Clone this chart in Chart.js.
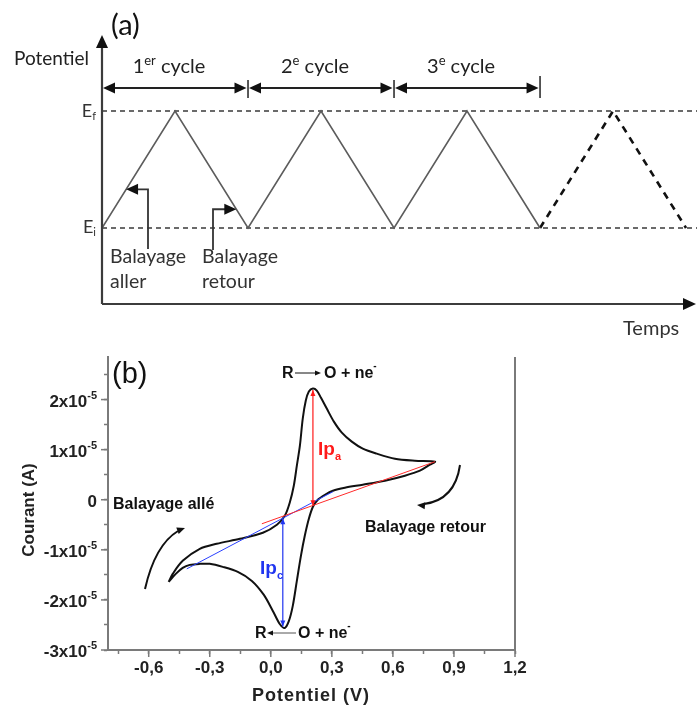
<!DOCTYPE html>
<html>
<head>
<meta charset="utf-8">
<script src="https://cdn.jsdelivr.net/npm/chart.js@4.4.1/dist/chart.umd.min.js"></script>
<style>
  html, body { margin: 0; padding: 0; background: #fff; }
  #wrap { position: relative; width: 697px; height: 709px; }
  canvas { position: absolute; left: 0; top: 0; }
</style>
</head>
<body>
<div id="wrap">
  <canvas id="chartA" width="697" height="709"></canvas>
  <canvas id="chartB" width="697" height="709"></canvas>
</div>
<script>
// ---- panel (a): potential vs time (Ei = 0, Ef = 1, one unit = half cycle)
const E_I = 0
const E_F = 1
const sweepTime = [0, 1, 2, 3, 4, 5, 6]
const sweepPotential = [0, 1, 0, 1, 0, 1, 0]
const nextTime = [6, 7, 8]
const nextPotential = [0, 1, 0]
const cycleStart = [0, 2, 4]
const cycleEnd = [2, 4, 6]
const cycleNum = ['1', '2', '3']
const cycleSup = ['er', 'e', 'e']

// ---- panel (b): cyclic voltammogram, current in 1e-5 A
const cvPotential = [
  -0.502, -0.482, -0.433, -0.349, -0.266, -0.152, -0.039, 0.030, 0.069, 0.093,
  0.113, 0.128, 0.143, 0.157, 0.172, 0.187, 0.207, 0.226, 0.246, 0.275,
  0.310, 0.349, 0.398, 0.452, 0.521, 0.610, 0.708, 0.807,
  0.782, 0.733, 0.659, 0.561, 0.452, 0.364, 0.305, 0.266, 0.231, 0.207,
  0.187, 0.167, 0.148, 0.128, 0.108, 0.089, 0.069, 0.044, 0.010, -0.034,
  -0.093, -0.162, -0.236, -0.300, -0.349, -0.398, -0.433, -0.467, -0.502
]
const cvCurrent = [
  -1.64, -1.48, -1.22, -0.98, -0.88, -0.78, -0.66, -0.50, -0.32, -0.06,
  0.28, 0.68, 1.08, 1.62, 1.98, 2.16, 2.22, 2.18, 2.04, 1.82,
  1.56, 1.34, 1.16, 1.02, 0.92, 0.82, 0.78, 0.76,
  0.70, 0.58, 0.48, 0.38, 0.30, 0.24, 0.18, 0.10, 0.00, -0.14,
  -0.38, -0.72, -1.12, -1.62, -2.12, -2.42, -2.56, -2.48, -2.22, -1.90,
  -1.62, -1.44, -1.34, -1.28, -1.28, -1.30, -1.36, -1.48, -1.64
]
const anodicBaseV = [-0.044, 0.807]
const anodicBaseI = [-0.48, 0.76]
const cathodicBaseV = [-0.413, 0.305]
const cathodicBaseI = [-1.38, 0.16]
const ipaV = [0.207, 0.207]
const ipaI = [-0.11, 2.19]
const ipcV = [0.059, 0.059]
const ipcI = [-0.37, -2.53]

const xTickValues = [-0.6, -0.3, 0, 0.3, 0.6, 0.9, 1.2]
const xTickLabels = ['-0,6', '-0,3', '0,0', '0,3', '0,6', '0,9', '1,2']
const xMinorTicks = [-0.75, -0.45, -0.15, 0.15, 0.45, 0.75, 1.05]
const yTickValues = [2, 1, 0, -1, -2, -3]
const yTickLabels = ['2x10', '1x10', '0', '-1x10', '-2x10', '-3x10']
const yMinorTicks = [2.5, 1.5, 0.5, -0.5, -1.5, -2.5]

const FA = 'Lato, "Open Sans", sans-serif'
const FB = '"Liberation Sans", Arial, sans-serif'

const pts = (xs, ys) => xs.map((x, i) => ({ x, y: ys[i] }))

const arrowHead = (ctx, x, y, ang, len, half, color) => {
  ctx.save()
  ctx.translate(x, y)
  ctx.rotate(ang)
  ctx.beginPath()
  ctx.moveTo(0, 0)
  ctx.lineTo(-len, -half)
  ctx.lineTo(-len, half)
  ctx.closePath()
  ctx.fillStyle = color
  ctx.fill()
  ctx.restore()
}

// draw a row of text pieces (for super/subscripts)
const drawRuns = (ctx, x, y, runs, align, color) => {
  let total = 0
  runs.forEach(r => { ctx.font = r.f; r.w = ctx.measureText(r.t).width; total += r.w })
  let cx = x
  if (align === 'center') cx = x - total / 2
  if (align === 'right') cx = x - total
  ctx.textAlign = 'left'
  ctx.textBaseline = 'alphabetic'
  runs.forEach(r => {
    ctx.font = r.f
    ctx.fillStyle = r.c || color || '#222'
    ctx.fillText(r.t, cx, y + (r.dy || 0))
    cx += r.w
  })
}

const line = (ctx, x1, y1, x2, y2) => {
  ctx.beginPath(); ctx.moveTo(x1, y1); ctx.lineTo(x2, y2); ctx.stroke()
}

const schemaPlugin = {
  id: 'schema',
  afterDraw(chart) {
    const ctx = chart.ctx
    const xs = chart.scales.x
    const ys = chart.scales.y
    const a = chart.chartArea
    ctx.save()
    // axes with arrows
    ctx.strokeStyle = '#3c3c3c'
    ctx.lineWidth = 2.2
    line(ctx, a.left, a.bottom, a.left, 46)
    line(ctx, a.left, a.bottom, 684, a.bottom)
    arrowHead(ctx, a.left, 35, -Math.PI / 2, 13, 6, '#111')
    arrowHead(ctx, 696, a.bottom, 0, 13, 6, '#111')

    // cycle arrows
    const yc = 88
    ctx.strokeStyle = '#222'
    ctx.lineWidth = 2
    cycleStart.forEach((s, i) => {
      const x1 = xs.getPixelForValue(s)
      const x2 = xs.getPixelForValue(cycleEnd[i])
      line(ctx, x1 + 8, yc, x2 - 8, yc)
      arrowHead(ctx, x1 + 1, yc, Math.PI, 12, 5.5, '#111')
      arrowHead(ctx, x2 - 1.5, yc, 0, 12, 5.5, '#111')
      ctx.lineWidth = 1.5
      line(ctx, x2, i === 2 ? 76 : 80, x2, 98)
      ctx.lineWidth = 2
      drawRuns(ctx, (x1 + x2) / 2 - 6, 73, [
        { t: cycleNum[i], f: '20px ' + FA },
        { t: cycleSup[i], f: '13px ' + FA, dy: -8 },
        { t: ' cycle', f: '20px ' + FA }
      ], 'center', '#222')
    })

    // sweep direction pointers
    ctx.strokeStyle = '#333'
    ctx.lineWidth = 1.8
    const ya = ys.getPixelForValue(0.33)
    ctx.beginPath(); ctx.moveTo(148, 249); ctx.lineTo(148, ya); ctx.lineTo(136, ya); ctx.stroke()
    arrowHead(ctx, xs.getPixelForValue(0.33), ya, Math.PI, 12, 5.5, '#111')
    const yr = ys.getPixelForValue(0.16)
    ctx.beginPath(); ctx.moveTo(213, 250); ctx.lineTo(213, yr); ctx.lineTo(226, yr); ctx.stroke()
    arrowHead(ctx, xs.getPixelForValue(1.84), yr, 0, 12, 5.5, '#111')

    // labels
    drawRuns(ctx, 14, 65, [{ t: 'Potentiel', f: '19px ' + FA }], 'left', '#222')
    drawRuns(ctx, 111, 35, [{ t: '(a)', f: '29px ' + FA }], 'left', '#111')
    drawRuns(ctx, 96, ys.getPixelForValue(E_F) + 6, [
      { t: 'E', f: '18px ' + FA }, { t: 'f', f: '11px ' + FA, dy: 3 }], 'right', '#333')
    drawRuns(ctx, 96, ys.getPixelForValue(E_I) + 5, [
      { t: 'E', f: '18px ' + FA }, { t: 'i', f: '11px ' + FA, dy: 3 }], 'right', '#333')
    drawRuns(ctx, 110, 263, [{ t: 'Balayage', f: '19.5px ' + FA }], 'left', '#333')
    drawRuns(ctx, 110, 288, [{ t: 'aller', f: '19.5px ' + FA }], 'left', '#333')
    drawRuns(ctx, 202, 263, [{ t: 'Balayage', f: '19.5px ' + FA }], 'left', '#333')
    drawRuns(ctx, 202, 288, [{ t: 'retour', f: '19.5px ' + FA }], 'left', '#333')
    drawRuns(ctx, 623, 335, [{ t: 'Temps', f: '20px ' + FA }], 'left', '#333')
    ctx.restore()
  }
}

const cvPlugin = {
  id: 'cvNotes',
  afterDraw(chart) {
    const ctx = chart.ctx
    const xs = chart.scales.x
    const ys = chart.scales.y
    const a = chart.chartArea
    const px = v => xs.getPixelForValue(v)
    const py = v => ys.getPixelForValue(v)
    ctx.save()

    // right frame line
    ctx.strokeStyle = '#7a7a7a'
    ctx.lineWidth = 2
    line(ctx, a.right, a.top, a.right, a.bottom + 1)
    // longer major ticks
    ctx.lineWidth = 1.5
    xTickValues.forEach(v => line(ctx, px(v), a.bottom, px(v), a.bottom + 7))
    yTickValues.forEach(v => line(ctx, a.left, py(v), a.left - 7, py(v)))

    // tick labels
    ctx.textAlign = 'center'
    ctx.textBaseline = 'middle'
    ctx.fillStyle = '#222'
    ctx.font = 'bold 17px ' + FB
    xTickValues.forEach((v, i) => ctx.fillText(xTickLabels[i], px(v), 668))
    yTickValues.forEach((v, i) => {
      const runs = [{ t: yTickLabels[i], f: 'bold 17px ' + FB }]
      if (v !== 0) runs.push({ t: '-5', f: 'bold 11px ' + FB, dy: -8 })
      drawRuns(ctx, 97, py(v) + 7, runs, 'right', '#222')
    })

    // axis titles
    ctx.save()
    ctx.translate(29, 510)
    ctx.rotate(-Math.PI / 2)
    ctx.font = 'bold 17px ' + FB
    ctx.textAlign = 'center'
    ctx.textBaseline = 'middle'
    ctx.fillStyle = '#222'
    ctx.fillText('Courant (A)', 0, 0)
    ctx.restore()
    ctx.font = 'bold 18px ' + FB
    ctx.textAlign = 'center'
    ctx.textBaseline = 'middle'
    ctx.fillStyle = '#222'
    if (ctx.letterSpacing !== undefined) ctx.letterSpacing = '1px'
    ctx.fillText('Potentiel (V)', 311, 696)
    if (ctx.letterSpacing !== undefined) ctx.letterSpacing = '0px'

    drawRuns(ctx, 112, 383, [{ t: '(b)', f: '29px ' + FB }], 'left', '#111')

    // peak current arrow heads
    arrowHead(ctx, px(ipaV[1]), py(ipaI[1]), -Math.PI / 2, 6, 2.5, '#ff1a1a')
    arrowHead(ctx, px(ipaV[0]), py(ipaI[0]), Math.PI / 2, 5, 2.5, '#ff1a1a')
    arrowHead(ctx, px(ipcV[0]), py(ipcI[0]), -Math.PI / 2, 6, 2.5, '#2035f0')
    arrowHead(ctx, px(ipcV[1]), py(ipcI[1]), Math.PI / 2, 6, 2.5, '#2035f0')

    drawRuns(ctx, 318, 455, [
      { t: 'Ip', f: 'bold 19px ' + FB }, { t: 'a', f: 'bold 11px ' + FB, dy: 5 }], 'left', '#ff1a1a')
    drawRuns(ctx, 260, 574, [
      { t: 'Ip', f: 'bold 19px ' + FB }, { t: 'c', f: 'bold 11px ' + FB, dy: 5 }], 'left', '#2035f0')

    // reaction labels
    drawRuns(ctx, 282, 378, [{ t: 'R', f: 'bold 16px ' + FB }], 'left', '#111')
    ctx.strokeStyle = '#111'; ctx.lineWidth = 1
    line(ctx, 295, 373, 316, 373)
    arrowHead(ctx, 321, 373, 0, 6, 2.5, '#111')
    drawRuns(ctx, 324, 378, [
      { t: 'O + ne', f: 'bold 16px ' + FB }, { t: '-', f: 'bold 10px ' + FB, dy: -9 }], 'left', '#111')

    drawRuns(ctx, 255, 638, [{ t: 'R', f: 'bold 16px ' + FB }], 'left', '#111')
    ctx.strokeStyle = '#555'
    line(ctx, 273, 633, 296, 633)
    arrowHead(ctx, 267, 633, Math.PI, 6, 2.5, '#111')
    drawRuns(ctx, 298, 638, [
      { t: 'O + ne', f: 'bold 16px ' + FB }, { t: '-', f: 'bold 10px ' + FB, dy: -9 }], 'left', '#111')

    drawRuns(ctx, 113, 509, [{ t: 'Balayage allé', f: 'bold 16px ' + FB }], 'left', '#111')
    drawRuns(ctx, 365, 532, [{ t: 'Balayage retour', f: 'bold 16px ' + FB }], 'left', '#111')

    // curved scan-direction arrows
    ctx.strokeStyle = '#111'
    ctx.lineWidth = 2
    ctx.beginPath(); ctx.moveTo(145, 589); ctx.quadraticCurveTo(155, 545, 178, 531); ctx.stroke()
    arrowHead(ctx, 185, 528, -0.35, 8, 3.5, '#111')
    ctx.beginPath(); ctx.moveTo(460, 465); ctx.quadraticCurveTo(455, 500, 424, 504); ctx.stroke()
    arrowHead(ctx, 417, 505, Math.PI + 0.1, 8, 3.5, '#111')

    ctx.restore()
  }
}

let chartA
let chartB

const drawSchema = function () {
  chartA = new Chart(document.getElementById('chartA'), {
    type: 'line',
    data: {
      datasets: [
        { data: pts(sweepTime, sweepPotential), borderColor: '#5c5c5c', borderWidth: 1.6 },
        { data: pts(nextTime, nextPotential), borderColor: '#111', borderWidth: 2.6, borderDash: [7, 6] },
        { data: [{ x: 0, y: E_F }, { x: 8.15, y: E_F }], borderColor: '#3a3a3a', borderWidth: 1.5, borderDash: [5, 4] },
        { data: [{ x: 0, y: E_I }, { x: 8.15, y: E_I }], borderColor: '#3a3a3a', borderWidth: 1.5, borderDash: [5, 4] }
      ]
    },
    options: {
      responsive: false,
      animation: false,
      events: [],
      layout: { padding: { left: 102, right: 0, top: 40, bottom: 405 } },
      elements: { point: { radius: 0 }, line: { tension: 0 } },
      plugins: { legend: { display: false }, tooltip: { enabled: false } },
      scales: {
        x: { type: 'linear', display: false, min: 0, max: 8.15 },
        y: { type: 'linear', display: false, min: -0.65, max: 1.607 }
      }
    },
    plugins: [schemaPlugin]
  })
}

const drawVoltammogram = function () {
  const axisGrid = { drawOnChartArea: false, drawTicks: true, tickLength: 4, tickColor: '#7a7a7a', tickWidth: 1.5 }
  const axisBorder = { display: true, color: '#7a7a7a', width: 2 }
  chartB = new Chart(document.getElementById('chartB'), {
    type: 'line',
    data: {
      datasets: [
        { data: pts(ipaV, ipaI), borderColor: '#ff1a1a', borderWidth: 1.2 },
        { data: pts(ipcV, ipcI), borderColor: '#2035f0', borderWidth: 1.2 },
        { data: pts(anodicBaseV, anodicBaseI), borderColor: '#ff2a2a', borderWidth: 1 },
        { data: pts(cathodicBaseV, cathodicBaseI), borderColor: '#2a40ff', borderWidth: 1 },
        { data: pts(cvPotential, cvCurrent), borderColor: '#111', borderWidth: 2, tension: 0.3 }
      ]
    },
    options: {
      responsive: false,
      animation: false,
      events: [],
      layout: { padding: { left: 98, right: 182, top: 357, bottom: 49 } },
      elements: { point: { radius: 0 }, line: { tension: 0 } },
      plugins: { legend: { display: false }, tooltip: { enabled: false } },
      scales: {
        x: {
          type: 'linear', min: -0.8, max: 1.2,
          afterBuildTicks: s => { s.ticks = xTickValues.concat(xMinorTicks).map(v => ({ value: v })) },
          afterFit: s => { s.height = 10 },
          ticks: { display: false },
          grid: axisGrid,
          border: axisBorder
        },
        y: {
          type: 'linear', min: -3, max: 2.85,
          afterBuildTicks: s => { s.ticks = yTickValues.concat(yMinorTicks).map(v => ({ value: v })) },
          afterFit: s => { s.width = 10 },
          ticks: { display: false },
          grid: axisGrid,
          border: axisBorder
        }
      }
    },
    plugins: [cvPlugin]
  })
}

const init = function () {
  drawSchema()
  drawVoltammogram()
}

document.addEventListener('DOMContentLoaded', init)
</script>
</body>
</html>
